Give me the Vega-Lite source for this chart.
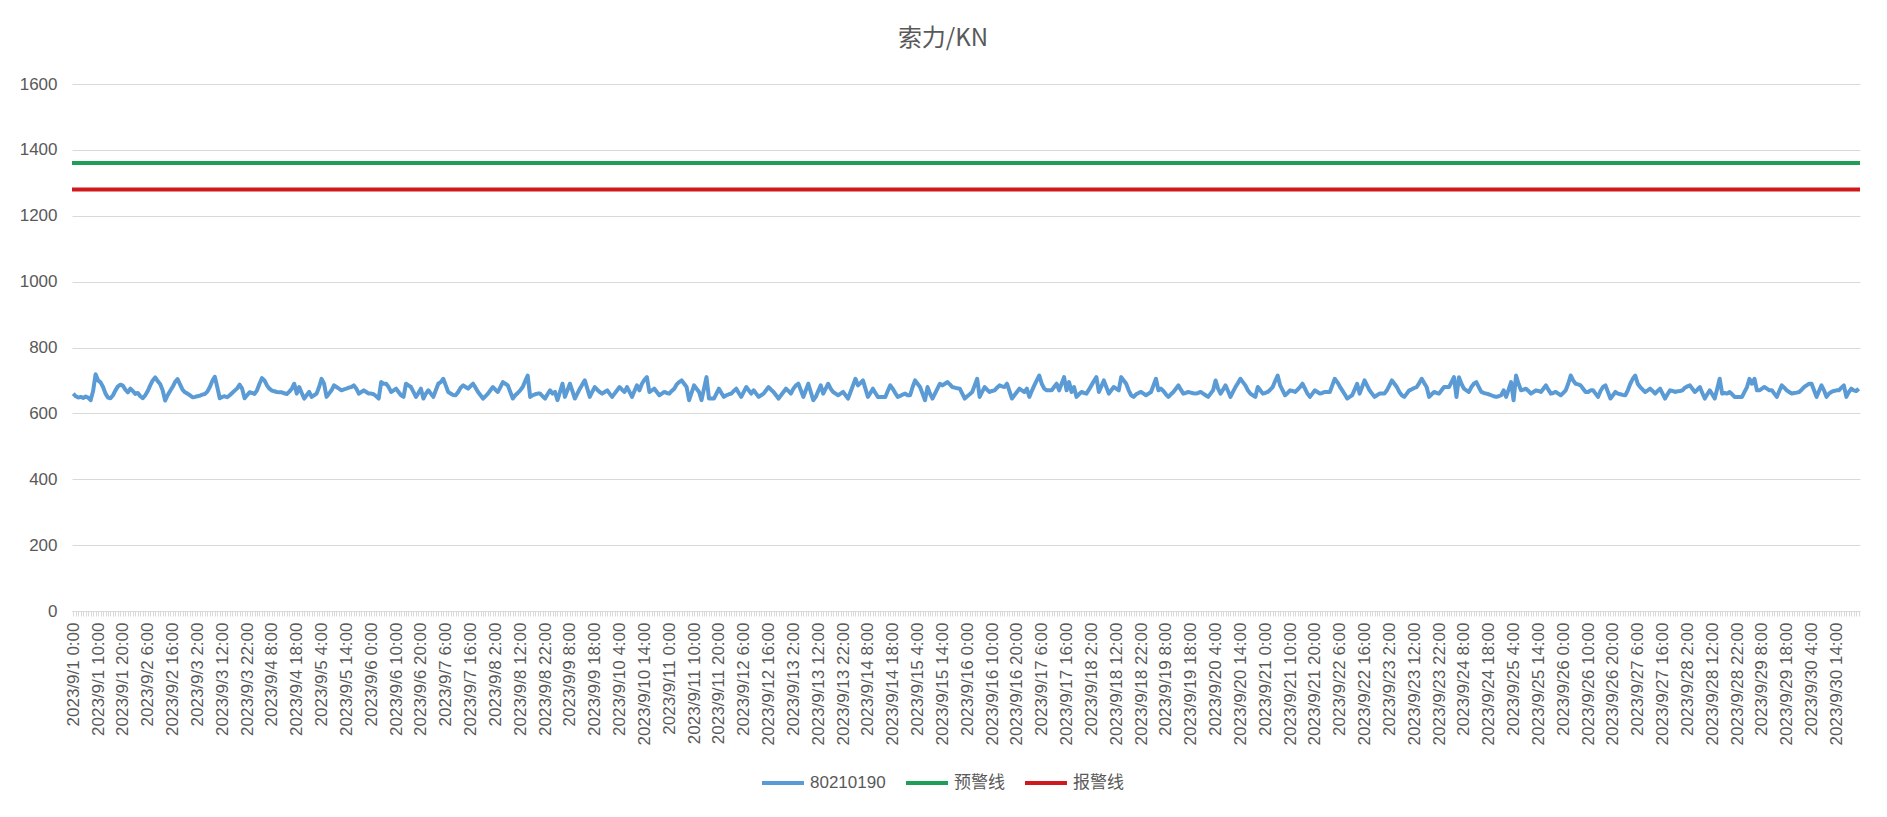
{
  "$schema": "https://vega.github.io/schema/vega-lite/v6.json",
  "width": 1788,
  "height": 527,
  "autosize": "none",
  "padding": {"left": 72, "top": 84, "right": 27, "bottom": 206},
  "background": "white",
  "config": {"view": {"stroke": null}, "font": "Liberation Sans"},
  "title": {
    "text": "索力/KN",
    "font": "Noto Sans CJK SC",
    "fontSize": 24,
    "fontWeight": "normal",
    "color": "#595959",
    "offset": 24,
    "dx": -23
  },
  "layer": [
    {
      "data": {"values": [
        {"t":"2023/9/1 0:00","v":660},{"t":"2023/9/1 1:00","v":652},{"t":"2023/9/1 2:00","v":648},{"t":"2023/9/1 3:00","v":650},{"t":"2023/9/1 4:00","v":647},{"t":"2023/9/1 5:00","v":651},{"t":"2023/9/1 6:00","v":648},{"t":"2023/9/1 7:00","v":640},{"t":"2023/9/1 8:00","v":668},{"t":"2023/9/1 9:00","v":719},{"t":"2023/9/1 10:00","v":700},{"t":"2023/9/1 11:00","v":694},{"t":"2023/9/1 12:00","v":680},{"t":"2023/9/1 13:00","v":660},{"t":"2023/9/1 14:00","v":648},{"t":"2023/9/1 15:00","v":646},{"t":"2023/9/1 16:00","v":655},{"t":"2023/9/1 17:00","v":670},{"t":"2023/9/1 18:00","v":682},{"t":"2023/9/1 19:00","v":687},{"t":"2023/9/1 20:00","v":684},{"t":"2023/9/1 21:00","v":672},{"t":"2023/9/1 22:00","v":664},{"t":"2023/9/1 23:00","v":675},
        {"t":"2023/9/2 0:00","v":668},{"t":"2023/9/2 1:00","v":659},{"t":"2023/9/2 2:00","v":662},{"t":"2023/9/2 3:00","v":652},{"t":"2023/9/2 4:00","v":646},{"t":"2023/9/2 5:00","v":655},{"t":"2023/9/2 6:00","v":668},{"t":"2023/9/2 7:00","v":685},{"t":"2023/9/2 8:00","v":700},{"t":"2023/9/2 9:00","v":709},{"t":"2023/9/2 10:00","v":698},{"t":"2023/9/2 11:00","v":689},{"t":"2023/9/2 12:00","v":670},{"t":"2023/9/2 13:00","v":639},{"t":"2023/9/2 14:00","v":655},{"t":"2023/9/2 15:00","v":668},{"t":"2023/9/2 16:00","v":680},{"t":"2023/9/2 17:00","v":695},{"t":"2023/9/2 18:00","v":704},{"t":"2023/9/2 19:00","v":688},{"t":"2023/9/2 20:00","v":672},{"t":"2023/9/2 21:00","v":664},{"t":"2023/9/2 22:00","v":660},{"t":"2023/9/2 23:00","v":655},
        {"t":"2023/9/3 0:00","v":649},{"t":"2023/9/3 1:00","v":650},{"t":"2023/9/3 2:00","v":652},{"t":"2023/9/3 3:00","v":654},{"t":"2023/9/3 4:00","v":657},{"t":"2023/9/3 5:00","v":659},{"t":"2023/9/3 6:00","v":666},{"t":"2023/9/3 7:00","v":680},{"t":"2023/9/3 8:00","v":698},{"t":"2023/9/3 9:00","v":711},{"t":"2023/9/3 10:00","v":680},{"t":"2023/9/3 11:00","v":646},{"t":"2023/9/3 12:00","v":650},{"t":"2023/9/3 13:00","v":652},{"t":"2023/9/3 14:00","v":649},{"t":"2023/9/3 15:00","v":655},{"t":"2023/9/3 16:00","v":662},{"t":"2023/9/3 17:00","v":669},{"t":"2023/9/3 18:00","v":676},{"t":"2023/9/3 19:00","v":687},{"t":"2023/9/3 20:00","v":675},{"t":"2023/9/3 21:00","v":646},{"t":"2023/9/3 22:00","v":655},{"t":"2023/9/3 23:00","v":664},
        {"t":"2023/9/4 0:00","v":662},{"t":"2023/9/4 1:00","v":659},{"t":"2023/9/4 2:00","v":670},{"t":"2023/9/4 3:00","v":690},{"t":"2023/9/4 4:00","v":707},{"t":"2023/9/4 5:00","v":700},{"t":"2023/9/4 6:00","v":685},{"t":"2023/9/4 7:00","v":675},{"t":"2023/9/4 8:00","v":669},{"t":"2023/9/4 9:00","v":667},{"t":"2023/9/4 10:00","v":665},{"t":"2023/9/4 11:00","v":664},{"t":"2023/9/4 12:00","v":664},{"t":"2023/9/4 13:00","v":661},{"t":"2023/9/4 14:00","v":659},{"t":"2023/9/4 15:00","v":666},{"t":"2023/9/4 16:00","v":675},{"t":"2023/9/4 17:00","v":690},{"t":"2023/9/4 18:00","v":660},{"t":"2023/9/4 19:00","v":680},{"t":"2023/9/4 20:00","v":662},{"t":"2023/9/4 21:00","v":645},{"t":"2023/9/4 22:00","v":655},{"t":"2023/9/4 23:00","v":665},
        {"t":"2023/9/5 0:00","v":650},{"t":"2023/9/5 1:00","v":655},{"t":"2023/9/5 2:00","v":660},{"t":"2023/9/5 3:00","v":680},{"t":"2023/9/5 4:00","v":705},{"t":"2023/9/5 5:00","v":690},{"t":"2023/9/5 6:00","v":650},{"t":"2023/9/5 7:00","v":660},{"t":"2023/9/5 8:00","v":670},{"t":"2023/9/5 9:00","v":685},{"t":"2023/9/5 10:00","v":680},{"t":"2023/9/5 11:00","v":675},{"t":"2023/9/5 12:00","v":670},{"t":"2023/9/5 13:00","v":673},{"t":"2023/9/5 14:00","v":675},{"t":"2023/9/5 15:00","v":678},{"t":"2023/9/5 16:00","v":680},{"t":"2023/9/5 17:00","v":685},{"t":"2023/9/5 18:00","v":675},{"t":"2023/9/5 19:00","v":660},{"t":"2023/9/5 20:00","v":665},{"t":"2023/9/5 21:00","v":670},{"t":"2023/9/5 22:00","v":665},{"t":"2023/9/5 23:00","v":660},
        {"t":"2023/9/6 0:00","v":660},{"t":"2023/9/6 1:00","v":658},{"t":"2023/9/6 2:00","v":652},{"t":"2023/9/6 3:00","v":645},{"t":"2023/9/6 4:00","v":695},{"t":"2023/9/6 5:00","v":690},{"t":"2023/9/6 6:00","v":690},{"t":"2023/9/6 7:00","v":680},{"t":"2023/9/6 8:00","v":665},{"t":"2023/9/6 9:00","v":670},{"t":"2023/9/6 10:00","v":675},{"t":"2023/9/6 11:00","v":665},{"t":"2023/9/6 12:00","v":655},{"t":"2023/9/6 13:00","v":650},{"t":"2023/9/6 14:00","v":690},{"t":"2023/9/6 15:00","v":685},{"t":"2023/9/6 16:00","v":680},{"t":"2023/9/6 17:00","v":665},{"t":"2023/9/6 18:00","v":650},{"t":"2023/9/6 19:00","v":662},{"t":"2023/9/6 20:00","v":675},{"t":"2023/9/6 21:00","v":645},{"t":"2023/9/6 22:00","v":660},{"t":"2023/9/6 23:00","v":670},
        {"t":"2023/9/7 0:00","v":660},{"t":"2023/9/7 1:00","v":650},{"t":"2023/9/7 2:00","v":670},{"t":"2023/9/7 3:00","v":690},{"t":"2023/9/7 4:00","v":695},{"t":"2023/9/7 5:00","v":705},{"t":"2023/9/7 6:00","v":685},{"t":"2023/9/7 7:00","v":665},{"t":"2023/9/7 8:00","v":660},{"t":"2023/9/7 9:00","v":656},{"t":"2023/9/7 10:00","v":655},{"t":"2023/9/7 11:00","v":665},{"t":"2023/9/7 12:00","v":678},{"t":"2023/9/7 13:00","v":685},{"t":"2023/9/7 14:00","v":680},{"t":"2023/9/7 15:00","v":675},{"t":"2023/9/7 16:00","v":683},{"t":"2023/9/7 17:00","v":690},{"t":"2023/9/7 18:00","v":678},{"t":"2023/9/7 19:00","v":665},{"t":"2023/9/7 20:00","v":655},{"t":"2023/9/7 21:00","v":645},{"t":"2023/9/7 22:00","v":652},{"t":"2023/9/7 23:00","v":660},
        {"t":"2023/9/8 0:00","v":670},{"t":"2023/9/8 1:00","v":680},{"t":"2023/9/8 2:00","v":672},{"t":"2023/9/8 3:00","v":665},{"t":"2023/9/8 4:00","v":680},{"t":"2023/9/8 5:00","v":695},{"t":"2023/9/8 6:00","v":690},{"t":"2023/9/8 7:00","v":685},{"t":"2023/9/8 8:00","v":665},{"t":"2023/9/8 9:00","v":645},{"t":"2023/9/8 10:00","v":655},{"t":"2023/9/8 11:00","v":662},{"t":"2023/9/8 12:00","v":670},{"t":"2023/9/8 13:00","v":680},{"t":"2023/9/8 14:00","v":698},{"t":"2023/9/8 15:00","v":715},{"t":"2023/9/8 16:00","v":650},{"t":"2023/9/8 17:00","v":655},{"t":"2023/9/8 18:00","v":658},{"t":"2023/9/8 19:00","v":660},{"t":"2023/9/8 20:00","v":660},{"t":"2023/9/8 21:00","v":652},{"t":"2023/9/8 22:00","v":645},{"t":"2023/9/8 23:00","v":658},
        {"t":"2023/9/9 0:00","v":670},{"t":"2023/9/9 1:00","v":660},{"t":"2023/9/9 2:00","v":665},{"t":"2023/9/9 3:00","v":640},{"t":"2023/9/9 4:00","v":665},{"t":"2023/9/9 5:00","v":690},{"t":"2023/9/9 6:00","v":650},{"t":"2023/9/9 7:00","v":670},{"t":"2023/9/9 8:00","v":690},{"t":"2023/9/9 9:00","v":668},{"t":"2023/9/9 10:00","v":645},{"t":"2023/9/9 11:00","v":660},{"t":"2023/9/9 12:00","v":675},{"t":"2023/9/9 13:00","v":688},{"t":"2023/9/9 14:00","v":700},{"t":"2023/9/9 15:00","v":675},{"t":"2023/9/9 16:00","v":650},{"t":"2023/9/9 17:00","v":665},{"t":"2023/9/9 18:00","v":680},{"t":"2023/9/9 19:00","v":672},{"t":"2023/9/9 20:00","v":665},{"t":"2023/9/9 21:00","v":660},{"t":"2023/9/9 22:00","v":665},{"t":"2023/9/9 23:00","v":670},
        {"t":"2023/9/10 0:00","v":660},{"t":"2023/9/10 1:00","v":650},{"t":"2023/9/10 2:00","v":660},{"t":"2023/9/10 3:00","v":670},{"t":"2023/9/10 4:00","v":680},{"t":"2023/9/10 5:00","v":672},{"t":"2023/9/10 6:00","v":665},{"t":"2023/9/10 7:00","v":680},{"t":"2023/9/10 8:00","v":665},{"t":"2023/9/10 9:00","v":650},{"t":"2023/9/10 10:00","v":668},{"t":"2023/9/10 11:00","v":685},{"t":"2023/9/10 12:00","v":670},{"t":"2023/9/10 13:00","v":690},{"t":"2023/9/10 14:00","v":702},{"t":"2023/9/10 15:00","v":710},{"t":"2023/9/10 16:00","v":665},{"t":"2023/9/10 17:00","v":670},{"t":"2023/9/10 18:00","v":675},{"t":"2023/9/10 19:00","v":665},{"t":"2023/9/10 20:00","v":655},{"t":"2023/9/10 21:00","v":660},{"t":"2023/9/10 22:00","v":665},{"t":"2023/9/10 23:00","v":662},
        {"t":"2023/9/11 0:00","v":660},{"t":"2023/9/11 1:00","v":668},{"t":"2023/9/11 2:00","v":675},{"t":"2023/9/11 3:00","v":688},{"t":"2023/9/11 4:00","v":695},{"t":"2023/9/11 5:00","v":700},{"t":"2023/9/11 6:00","v":690},{"t":"2023/9/11 7:00","v":680},{"t":"2023/9/11 8:00","v":640},{"t":"2023/9/11 9:00","v":662},{"t":"2023/9/11 10:00","v":685},{"t":"2023/9/11 11:00","v":675},{"t":"2023/9/11 12:00","v":665},{"t":"2023/9/11 13:00","v":640},{"t":"2023/9/11 14:00","v":675},{"t":"2023/9/11 15:00","v":710},{"t":"2023/9/11 16:00","v":645},{"t":"2023/9/11 17:00","v":645},{"t":"2023/9/11 18:00","v":645},{"t":"2023/9/11 19:00","v":660},{"t":"2023/9/11 20:00","v":675},{"t":"2023/9/11 21:00","v":662},{"t":"2023/9/11 22:00","v":650},{"t":"2023/9/11 23:00","v":655},
        {"t":"2023/9/12 0:00","v":658},{"t":"2023/9/12 1:00","v":660},{"t":"2023/9/12 2:00","v":668},{"t":"2023/9/12 3:00","v":675},{"t":"2023/9/12 4:00","v":662},{"t":"2023/9/12 5:00","v":650},{"t":"2023/9/12 6:00","v":665},{"t":"2023/9/12 7:00","v":680},{"t":"2023/9/12 8:00","v":670},{"t":"2023/9/12 9:00","v":660},{"t":"2023/9/12 10:00","v":670},{"t":"2023/9/12 11:00","v":660},{"t":"2023/9/12 12:00","v":650},{"t":"2023/9/12 13:00","v":655},{"t":"2023/9/12 14:00","v":660},{"t":"2023/9/12 15:00","v":670},{"t":"2023/9/12 16:00","v":680},{"t":"2023/9/12 17:00","v":672},{"t":"2023/9/12 18:00","v":665},{"t":"2023/9/12 19:00","v":655},{"t":"2023/9/12 20:00","v":645},{"t":"2023/9/12 21:00","v":655},{"t":"2023/9/12 22:00","v":665},{"t":"2023/9/12 23:00","v":675},
        {"t":"2023/9/13 0:00","v":668},{"t":"2023/9/13 1:00","v":660},{"t":"2023/9/13 2:00","v":675},{"t":"2023/9/13 3:00","v":685},{"t":"2023/9/13 4:00","v":690},{"t":"2023/9/13 5:00","v":670},{"t":"2023/9/13 6:00","v":650},{"t":"2023/9/13 7:00","v":670},{"t":"2023/9/13 8:00","v":690},{"t":"2023/9/13 9:00","v":665},{"t":"2023/9/13 10:00","v":640},{"t":"2023/9/13 11:00","v":650},{"t":"2023/9/13 12:00","v":668},{"t":"2023/9/13 13:00","v":685},{"t":"2023/9/13 14:00","v":660},{"t":"2023/9/13 15:00","v":675},{"t":"2023/9/13 16:00","v":690},{"t":"2023/9/13 17:00","v":675},{"t":"2023/9/13 18:00","v":665},{"t":"2023/9/13 19:00","v":660},{"t":"2023/9/13 20:00","v":655},{"t":"2023/9/13 21:00","v":660},{"t":"2023/9/13 22:00","v":665},{"t":"2023/9/13 23:00","v":655},
        {"t":"2023/9/14 0:00","v":645},{"t":"2023/9/14 1:00","v":665},{"t":"2023/9/14 2:00","v":685},{"t":"2023/9/14 3:00","v":705},{"t":"2023/9/14 4:00","v":685},{"t":"2023/9/14 5:00","v":692},{"t":"2023/9/14 6:00","v":700},{"t":"2023/9/14 7:00","v":675},{"t":"2023/9/14 8:00","v":650},{"t":"2023/9/14 9:00","v":662},{"t":"2023/9/14 10:00","v":675},{"t":"2023/9/14 11:00","v":662},{"t":"2023/9/14 12:00","v":650},{"t":"2023/9/14 13:00","v":650},{"t":"2023/9/14 14:00","v":650},{"t":"2023/9/14 15:00","v":650},{"t":"2023/9/14 16:00","v":668},{"t":"2023/9/14 17:00","v":685},{"t":"2023/9/14 18:00","v":675},{"t":"2023/9/14 19:00","v":662},{"t":"2023/9/14 20:00","v":650},{"t":"2023/9/14 21:00","v":653},{"t":"2023/9/14 22:00","v":657},{"t":"2023/9/14 23:00","v":660},
        {"t":"2023/9/15 0:00","v":655},{"t":"2023/9/15 1:00","v":655},{"t":"2023/9/15 2:00","v":680},{"t":"2023/9/15 3:00","v":700},{"t":"2023/9/15 4:00","v":690},{"t":"2023/9/15 5:00","v":680},{"t":"2023/9/15 6:00","v":660},{"t":"2023/9/15 7:00","v":640},{"t":"2023/9/15 8:00","v":680},{"t":"2023/9/15 9:00","v":660},{"t":"2023/9/15 10:00","v":645},{"t":"2023/9/15 11:00","v":660},{"t":"2023/9/15 12:00","v":675},{"t":"2023/9/15 13:00","v":690},{"t":"2023/9/15 14:00","v":685},{"t":"2023/9/15 15:00","v":690},{"t":"2023/9/15 16:00","v":695},{"t":"2023/9/15 17:00","v":688},{"t":"2023/9/15 18:00","v":680},{"t":"2023/9/15 19:00","v":678},{"t":"2023/9/15 20:00","v":676},{"t":"2023/9/15 21:00","v":675},{"t":"2023/9/15 22:00","v":660},{"t":"2023/9/15 23:00","v":645},
        {"t":"2023/9/16 0:00","v":652},{"t":"2023/9/16 1:00","v":658},{"t":"2023/9/16 2:00","v":665},{"t":"2023/9/16 3:00","v":685},{"t":"2023/9/16 4:00","v":705},{"t":"2023/9/16 5:00","v":650},{"t":"2023/9/16 6:00","v":665},{"t":"2023/9/16 7:00","v":680},{"t":"2023/9/16 8:00","v":672},{"t":"2023/9/16 9:00","v":665},{"t":"2023/9/16 10:00","v":668},{"t":"2023/9/16 11:00","v":670},{"t":"2023/9/16 12:00","v":678},{"t":"2023/9/16 13:00","v":685},{"t":"2023/9/16 14:00","v":682},{"t":"2023/9/16 15:00","v":680},{"t":"2023/9/16 16:00","v":690},{"t":"2023/9/16 17:00","v":668},{"t":"2023/9/16 18:00","v":645},{"t":"2023/9/16 19:00","v":655},{"t":"2023/9/16 20:00","v":665},{"t":"2023/9/16 21:00","v":675},{"t":"2023/9/16 22:00","v":670},{"t":"2023/9/16 23:00","v":665},
        {"t":"2023/9/17 0:00","v":675},{"t":"2023/9/17 1:00","v":650},{"t":"2023/9/17 2:00","v":668},{"t":"2023/9/17 3:00","v":685},{"t":"2023/9/17 4:00","v":700},{"t":"2023/9/17 5:00","v":715},{"t":"2023/9/17 6:00","v":690},{"t":"2023/9/17 7:00","v":675},{"t":"2023/9/17 8:00","v":670},{"t":"2023/9/17 9:00","v":670},{"t":"2023/9/17 10:00","v":670},{"t":"2023/9/17 11:00","v":680},{"t":"2023/9/17 12:00","v":690},{"t":"2023/9/17 13:00","v":670},{"t":"2023/9/17 14:00","v":690},{"t":"2023/9/17 15:00","v":710},{"t":"2023/9/17 16:00","v":670},{"t":"2023/9/17 17:00","v":695},{"t":"2023/9/17 18:00","v":665},{"t":"2023/9/17 19:00","v":680},{"t":"2023/9/17 20:00","v":650},{"t":"2023/9/17 21:00","v":658},{"t":"2023/9/17 22:00","v":665},{"t":"2023/9/17 23:00","v":662},
        {"t":"2023/9/18 0:00","v":660},{"t":"2023/9/18 1:00","v":672},{"t":"2023/9/18 2:00","v":685},{"t":"2023/9/18 3:00","v":698},{"t":"2023/9/18 4:00","v":710},{"t":"2023/9/18 5:00","v":665},{"t":"2023/9/18 6:00","v":682},{"t":"2023/9/18 7:00","v":700},{"t":"2023/9/18 8:00","v":680},{"t":"2023/9/18 9:00","v":660},{"t":"2023/9/18 10:00","v":670},{"t":"2023/9/18 11:00","v":680},{"t":"2023/9/18 12:00","v":675},{"t":"2023/9/18 13:00","v":670},{"t":"2023/9/18 14:00","v":710},{"t":"2023/9/18 15:00","v":700},{"t":"2023/9/18 16:00","v":690},{"t":"2023/9/18 17:00","v":670},{"t":"2023/9/18 18:00","v":655},{"t":"2023/9/18 19:00","v":650},{"t":"2023/9/18 20:00","v":658},{"t":"2023/9/18 21:00","v":662},{"t":"2023/9/18 22:00","v":665},{"t":"2023/9/18 23:00","v":660},
        {"t":"2023/9/19 0:00","v":655},{"t":"2023/9/19 1:00","v":660},{"t":"2023/9/19 2:00","v":665},{"t":"2023/9/19 3:00","v":685},{"t":"2023/9/19 4:00","v":705},{"t":"2023/9/19 5:00","v":670},{"t":"2023/9/19 6:00","v":675},{"t":"2023/9/19 7:00","v":668},{"t":"2023/9/19 8:00","v":658},{"t":"2023/9/19 9:00","v":650},{"t":"2023/9/19 10:00","v":658},{"t":"2023/9/19 11:00","v":665},{"t":"2023/9/19 12:00","v":675},{"t":"2023/9/19 13:00","v":685},{"t":"2023/9/19 14:00","v":672},{"t":"2023/9/19 15:00","v":660},{"t":"2023/9/19 16:00","v":662},{"t":"2023/9/19 17:00","v":665},{"t":"2023/9/19 18:00","v":663},{"t":"2023/9/19 19:00","v":661},{"t":"2023/9/19 20:00","v":660},{"t":"2023/9/19 21:00","v":662},{"t":"2023/9/19 22:00","v":665},{"t":"2023/9/19 23:00","v":660},
        {"t":"2023/9/20 0:00","v":655},{"t":"2023/9/20 1:00","v":650},{"t":"2023/9/20 2:00","v":660},{"t":"2023/9/20 3:00","v":670},{"t":"2023/9/20 4:00","v":700},{"t":"2023/9/20 5:00","v":675},{"t":"2023/9/20 6:00","v":660},{"t":"2023/9/20 7:00","v":672},{"t":"2023/9/20 8:00","v":685},{"t":"2023/9/20 9:00","v":668},{"t":"2023/9/20 10:00","v":650},{"t":"2023/9/20 11:00","v":665},{"t":"2023/9/20 12:00","v":680},{"t":"2023/9/20 13:00","v":692},{"t":"2023/9/20 14:00","v":705},{"t":"2023/9/20 15:00","v":695},{"t":"2023/9/20 16:00","v":685},{"t":"2023/9/20 17:00","v":670},{"t":"2023/9/20 18:00","v":660},{"t":"2023/9/20 19:00","v":655},{"t":"2023/9/20 20:00","v":650},{"t":"2023/9/20 21:00","v":680},{"t":"2023/9/20 22:00","v":670},{"t":"2023/9/20 23:00","v":660},
        {"t":"2023/9/21 0:00","v":662},{"t":"2023/9/21 1:00","v":665},{"t":"2023/9/21 2:00","v":672},{"t":"2023/9/21 3:00","v":680},{"t":"2023/9/21 4:00","v":698},{"t":"2023/9/21 5:00","v":715},{"t":"2023/9/21 6:00","v":685},{"t":"2023/9/21 7:00","v":670},{"t":"2023/9/21 8:00","v":655},{"t":"2023/9/21 9:00","v":662},{"t":"2023/9/21 10:00","v":670},{"t":"2023/9/21 11:00","v":668},{"t":"2023/9/21 12:00","v":665},{"t":"2023/9/21 13:00","v":672},{"t":"2023/9/21 14:00","v":680},{"t":"2023/9/21 15:00","v":690},{"t":"2023/9/21 16:00","v":675},{"t":"2023/9/21 17:00","v":660},{"t":"2023/9/21 18:00","v":650},{"t":"2023/9/21 19:00","v":660},{"t":"2023/9/21 20:00","v":670},{"t":"2023/9/21 21:00","v":665},{"t":"2023/9/21 22:00","v":660},{"t":"2023/9/21 23:00","v":662},
        {"t":"2023/9/22 0:00","v":665},{"t":"2023/9/22 1:00","v":665},{"t":"2023/9/22 2:00","v":665},{"t":"2023/9/22 3:00","v":685},{"t":"2023/9/22 4:00","v":705},{"t":"2023/9/22 5:00","v":695},{"t":"2023/9/22 6:00","v":682},{"t":"2023/9/22 7:00","v":670},{"t":"2023/9/22 8:00","v":658},{"t":"2023/9/22 9:00","v":645},{"t":"2023/9/22 10:00","v":650},{"t":"2023/9/22 11:00","v":655},{"t":"2023/9/22 12:00","v":672},{"t":"2023/9/22 13:00","v":690},{"t":"2023/9/22 14:00","v":660},{"t":"2023/9/22 15:00","v":680},{"t":"2023/9/22 16:00","v":700},{"t":"2023/9/22 17:00","v":685},{"t":"2023/9/22 18:00","v":670},{"t":"2023/9/22 19:00","v":660},{"t":"2023/9/22 20:00","v":650},{"t":"2023/9/22 21:00","v":655},{"t":"2023/9/22 22:00","v":660},{"t":"2023/9/22 23:00","v":660},
        {"t":"2023/9/23 0:00","v":660},{"t":"2023/9/23 1:00","v":670},{"t":"2023/9/23 2:00","v":685},{"t":"2023/9/23 3:00","v":700},{"t":"2023/9/23 4:00","v":690},{"t":"2023/9/23 5:00","v":680},{"t":"2023/9/23 6:00","v":665},{"t":"2023/9/23 7:00","v":655},{"t":"2023/9/23 8:00","v":650},{"t":"2023/9/23 9:00","v":660},{"t":"2023/9/23 10:00","v":670},{"t":"2023/9/23 11:00","v":673},{"t":"2023/9/23 12:00","v":677},{"t":"2023/9/23 13:00","v":680},{"t":"2023/9/23 14:00","v":692},{"t":"2023/9/23 15:00","v":705},{"t":"2023/9/23 16:00","v":692},{"t":"2023/9/23 17:00","v":680},{"t":"2023/9/23 18:00","v":650},{"t":"2023/9/23 19:00","v":658},{"t":"2023/9/23 20:00","v":665},{"t":"2023/9/23 21:00","v":662},{"t":"2023/9/23 22:00","v":660},{"t":"2023/9/23 23:00","v":670},
        {"t":"2023/9/24 0:00","v":680},{"t":"2023/9/24 1:00","v":680},{"t":"2023/9/24 2:00","v":680},{"t":"2023/9/24 3:00","v":695},{"t":"2023/9/24 4:00","v":710},{"t":"2023/9/24 5:00","v":650},{"t":"2023/9/24 6:00","v":710},{"t":"2023/9/24 7:00","v":690},{"t":"2023/9/24 8:00","v":675},{"t":"2023/9/24 9:00","v":670},{"t":"2023/9/24 10:00","v":665},{"t":"2023/9/24 11:00","v":680},{"t":"2023/9/24 12:00","v":690},{"t":"2023/9/24 13:00","v":695},{"t":"2023/9/24 14:00","v":680},{"t":"2023/9/24 15:00","v":665},{"t":"2023/9/24 16:00","v":662},{"t":"2023/9/24 17:00","v":660},{"t":"2023/9/24 18:00","v":658},{"t":"2023/9/24 19:00","v":655},{"t":"2023/9/24 20:00","v":652},{"t":"2023/9/24 21:00","v":650},{"t":"2023/9/24 22:00","v":652},{"t":"2023/9/24 23:00","v":655},
        {"t":"2023/9/25 0:00","v":670},{"t":"2023/9/25 1:00","v":650},{"t":"2023/9/25 2:00","v":672},{"t":"2023/9/25 3:00","v":695},{"t":"2023/9/25 4:00","v":640},{"t":"2023/9/25 5:00","v":715},{"t":"2023/9/25 6:00","v":690},{"t":"2023/9/25 7:00","v":670},{"t":"2023/9/25 8:00","v":672},{"t":"2023/9/25 9:00","v":675},{"t":"2023/9/25 10:00","v":668},{"t":"2023/9/25 11:00","v":660},{"t":"2023/9/25 12:00","v":665},{"t":"2023/9/25 13:00","v":670},{"t":"2023/9/25 14:00","v":668},{"t":"2023/9/25 15:00","v":665},{"t":"2023/9/25 16:00","v":675},{"t":"2023/9/25 17:00","v":685},{"t":"2023/9/25 18:00","v":672},{"t":"2023/9/25 19:00","v":660},{"t":"2023/9/25 20:00","v":662},{"t":"2023/9/25 21:00","v":665},{"t":"2023/9/25 22:00","v":660},{"t":"2023/9/25 23:00","v":655},
        {"t":"2023/9/26 0:00","v":662},{"t":"2023/9/26 1:00","v":670},{"t":"2023/9/26 2:00","v":690},{"t":"2023/9/26 3:00","v":715},{"t":"2023/9/26 4:00","v":700},{"t":"2023/9/26 5:00","v":690},{"t":"2023/9/26 6:00","v":688},{"t":"2023/9/26 7:00","v":685},{"t":"2023/9/26 8:00","v":675},{"t":"2023/9/26 9:00","v":665},{"t":"2023/9/26 10:00","v":665},{"t":"2023/9/26 11:00","v":670},{"t":"2023/9/26 12:00","v":670},{"t":"2023/9/26 13:00","v":660},{"t":"2023/9/26 14:00","v":650},{"t":"2023/9/26 15:00","v":668},{"t":"2023/9/26 16:00","v":680},{"t":"2023/9/26 17:00","v":685},{"t":"2023/9/26 18:00","v":665},{"t":"2023/9/26 19:00","v":645},{"t":"2023/9/26 20:00","v":655},{"t":"2023/9/26 21:00","v":665},{"t":"2023/9/26 22:00","v":660},{"t":"2023/9/26 23:00","v":658},
        {"t":"2023/9/27 0:00","v":656},{"t":"2023/9/27 1:00","v":655},{"t":"2023/9/27 2:00","v":670},{"t":"2023/9/27 3:00","v":690},{"t":"2023/9/27 4:00","v":705},{"t":"2023/9/27 5:00","v":715},{"t":"2023/9/27 6:00","v":690},{"t":"2023/9/27 7:00","v":680},{"t":"2023/9/27 8:00","v":672},{"t":"2023/9/27 9:00","v":665},{"t":"2023/9/27 10:00","v":670},{"t":"2023/9/27 11:00","v":675},{"t":"2023/9/27 12:00","v":668},{"t":"2023/9/27 13:00","v":660},{"t":"2023/9/27 14:00","v":668},{"t":"2023/9/27 15:00","v":675},{"t":"2023/9/27 16:00","v":660},{"t":"2023/9/27 17:00","v":645},{"t":"2023/9/27 18:00","v":658},{"t":"2023/9/27 19:00","v":670},{"t":"2023/9/27 20:00","v":668},{"t":"2023/9/27 21:00","v":665},{"t":"2023/9/27 22:00","v":667},{"t":"2023/9/27 23:00","v":668},
        {"t":"2023/9/28 0:00","v":670},{"t":"2023/9/28 1:00","v":678},{"t":"2023/9/28 2:00","v":682},{"t":"2023/9/28 3:00","v":685},{"t":"2023/9/28 4:00","v":675},{"t":"2023/9/28 5:00","v":665},{"t":"2023/9/28 6:00","v":672},{"t":"2023/9/28 7:00","v":680},{"t":"2023/9/28 8:00","v":662},{"t":"2023/9/28 9:00","v":645},{"t":"2023/9/28 10:00","v":658},{"t":"2023/9/28 11:00","v":670},{"t":"2023/9/28 12:00","v":658},{"t":"2023/9/28 13:00","v":645},{"t":"2023/9/28 14:00","v":675},{"t":"2023/9/28 15:00","v":705},{"t":"2023/9/28 16:00","v":660},{"t":"2023/9/28 17:00","v":662},{"t":"2023/9/28 18:00","v":660},{"t":"2023/9/28 19:00","v":665},{"t":"2023/9/28 20:00","v":658},{"t":"2023/9/28 21:00","v":650},{"t":"2023/9/28 22:00","v":650},{"t":"2023/9/28 23:00","v":650},
        {"t":"2023/9/29 0:00","v":650},{"t":"2023/9/29 1:00","v":665},{"t":"2023/9/29 2:00","v":680},{"t":"2023/9/29 3:00","v":705},{"t":"2023/9/29 4:00","v":690},{"t":"2023/9/29 5:00","v":705},{"t":"2023/9/29 6:00","v":670},{"t":"2023/9/29 7:00","v":670},{"t":"2023/9/29 8:00","v":675},{"t":"2023/9/29 9:00","v":680},{"t":"2023/9/29 10:00","v":675},{"t":"2023/9/29 11:00","v":670},{"t":"2023/9/29 12:00","v":670},{"t":"2023/9/29 13:00","v":660},{"t":"2023/9/29 14:00","v":650},{"t":"2023/9/29 15:00","v":668},{"t":"2023/9/29 16:00","v":685},{"t":"2023/9/29 17:00","v":678},{"t":"2023/9/29 18:00","v":670},{"t":"2023/9/29 19:00","v":665},{"t":"2023/9/29 20:00","v":660},{"t":"2023/9/29 21:00","v":662},{"t":"2023/9/29 22:00","v":663},{"t":"2023/9/29 23:00","v":665},
        {"t":"2023/9/30 0:00","v":672},{"t":"2023/9/30 1:00","v":680},{"t":"2023/9/30 2:00","v":685},{"t":"2023/9/30 3:00","v":690},{"t":"2023/9/30 4:00","v":690},{"t":"2023/9/30 5:00","v":670},{"t":"2023/9/30 6:00","v":650},{"t":"2023/9/30 7:00","v":668},{"t":"2023/9/30 8:00","v":685},{"t":"2023/9/30 9:00","v":670},{"t":"2023/9/30 10:00","v":650},{"t":"2023/9/30 11:00","v":660},{"t":"2023/9/30 12:00","v":665},{"t":"2023/9/30 13:00","v":668},{"t":"2023/9/30 14:00","v":670},{"t":"2023/9/30 15:00","v":670},{"t":"2023/9/30 16:00","v":678},{"t":"2023/9/30 17:00","v":685},{"t":"2023/9/30 18:00","v":650},{"t":"2023/9/30 19:00","v":665},{"t":"2023/9/30 20:00","v":675},{"t":"2023/9/30 21:00","v":670},{"t":"2023/9/30 22:00","v":668},{"t":"2023/9/30 23:00","v":675}
      ]},
      "mark": {"type": "line", "strokeWidth": 4, "strokeJoin": "round"},
      "encoding": {
        "x": {
          "field": "t",
          "type": "ordinal",
          "sort": null,
          "scale": {"type": "point", "padding": 0.5},
          "axis": {
            "title": null,
            "labelAngle": -90,
            "labelFontSize": 17,
            "labelColor": "#595959",
            "labelPadding": 6,
            "labelOverlap": false,
            "labelExpr": "(toNumber(split(split(datum.label, ' ')[0], '/')[2]) * 24 - 24 + toNumber(split(split(datum.label, ' ')[1], ':')[0])) % 10 == 0 ? datum.label : ''",
            "domainColor": "#D9D9D9",
            "tickColor": "#D9D9D9",
            "tickSize": 5,
            "grid": false
          }
        },
        "y": {
          "field": "v",
          "type": "quantitative",
          "scale": {"domain": [0, 1600]},
          "axis": {
            "title": null,
            "values": [0, 200, 400, 600, 800, 1000, 1200, 1400, 1600],
            "format": "d",
            "labelFontSize": 17,
            "labelColor": "#595959",
            "labelPadding": 15,
            "domain": false,
            "ticks": false,
            "gridColor": "#D9D9D9"
          }
        },
        "color": {
          "datum": "80210190",
          "type": "nominal",
          "scale": {"domain": ["80210190", "预警线", "报警线"], "range": ["#5B9BD5", "#1E9E57", "#D0191C"]},
          "legend": {
            "title": null,
            "orient": "none",
            "legendX": 688,
            "legendY": 676,
            "direction": "horizontal",
            "symbolType": "stroke",
            "symbolSize": 1764,
            "symbolStrokeWidth": 4,
            "labelFont": "Liberation Sans, Noto Sans CJK SC",
            "labelFontSize": 17,
            "labelColor": "#595959",
            "labelOffset": 4,
            "columnPadding": 12
          }
        }
      }
    },
    {
      "data": {"values": [{"s": "预警线", "v": 1360}, {"s": "报警线", "v": 1280}]},
      "mark": {"type": "rule", "strokeWidth": 4},
      "encoding": {
        "y": {"field": "v", "type": "quantitative"},
        "color": {"field": "s", "type": "nominal", "legend": null}
      }
    }
  ]
}
